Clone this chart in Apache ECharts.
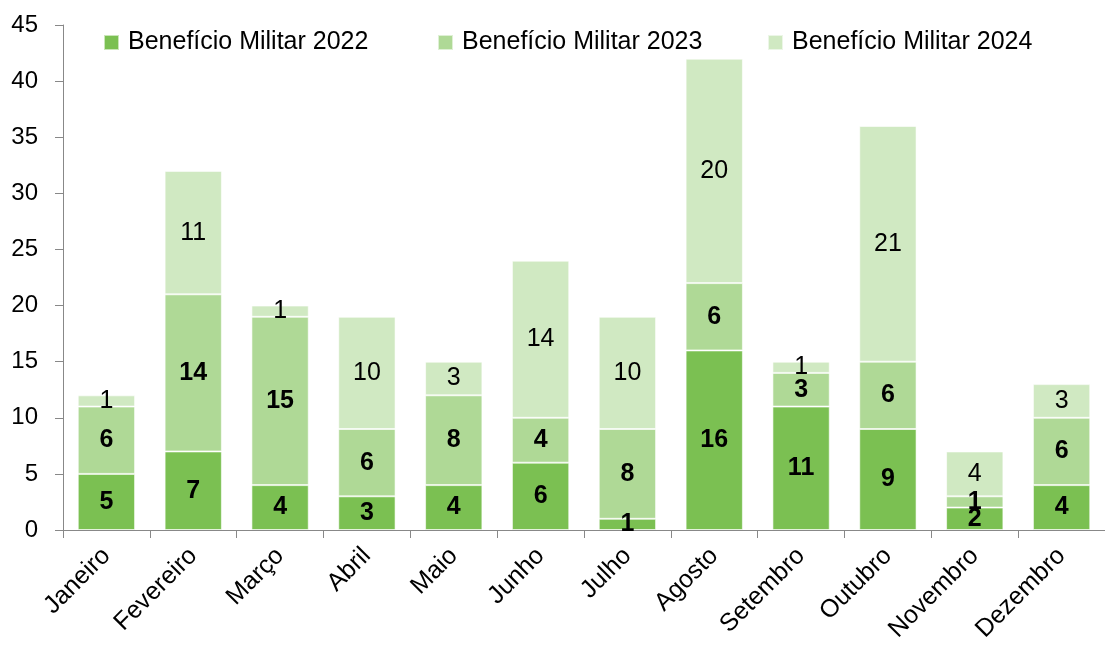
<!DOCTYPE html>
<html>
<head>
<meta charset="utf-8">
<script src="https://cdn.jsdelivr.net/npm/echarts@6/dist/echarts.min.js"></script>
<style>
  html, body { margin: 0; padding: 0; background: #fff; }
  #chart { width: 1105px; height: 648px; }
</style>
</head>
<body>
<div id="chart"></div>
<script>
// meses
let months = ['Janeiro', 'Fevereiro', 'Março', 'Abril', 'Maio', 'Junho',
  'Julho', 'Agosto', 'Setembro', 'Outubro', 'Novembro', 'Dezembro'];

let mil2022 = [5, 7, 4, 3, 4, 6, 1, 16, 11, 9, 2, 4];
let mil2023 = [6, 14, 15, 6, 8, 4, 8, 6, 3, 6, 1, 6];
let mil2024 = [1, 11, 1, 10, 3, 14, 10, 20, 1, 21, 4, 3];

let seriesNames = ['Benefício Militar 2022', 'Benefício Militar 2023', 'Benefício Militar 2024'];
let Colors = ['#7BC052', '#AFD996', '#D0E9C2'];

let font = 'Liberation Sans, Arial, sans-serif';

function makeSeries(name, data, color, bold) {
  return {
    name: name,
    type: 'bar',
    stack: 'total',
    data: data,
    barCategoryGap: '34%',
    itemStyle: {color: color, borderColor: 'rgba(255,255,255,0.6)', borderWidth: 1},
    label: {
      show: true,
      position: 'inside',
      color: '#000',
      fontFamily: font,
      fontSize: 25,
      fontWeight: bold ? 'bold' : 'normal'
    }
  };
}

// uma legenda por item, para acertar as posicoes
let legendLeft = [98, 432, 762];
let legends = seriesNames.map((n, i) => ({
  top: 25,
  left: legendLeft[i],
  itemWidth: 15,
  itemHeight: 15,
  icon: 'rect',
  textStyle: {fontFamily: font, fontSize: 25, color: '#000', padding: [0, 0, 0, 4]},
  data: [n]
}));

let option = {
  animation: false,
  legend: legends,
  grid: {left: 63, top: 25, width: 1050, bottom: 118},
  xAxis: {
    type: 'category',
    data: months,
    axisLine: {lineStyle: {color: '#888'}},
    axisTick: {show: true, length: 8, lineStyle: {color: '#888'}},
    axisLabel: {
      rotate: 45, interval: 0, margin: 22,
      color: '#000', fontFamily: font, fontSize: 25
    }
  },
  yAxis: {
    type: 'value',
    min: 0,
    max: 45,
    interval: 5,
    axisLine: {show: true, lineStyle: {color: '#888'}},
    axisTick: {show: true, inside: false, length: 8, lineStyle: {color: '#888'}},
    splitLine: {show: false},
    axisLabel: {color: '#000', fontFamily: font, fontSize: 24, margin: 25}
  },
  series: [
    makeSeries(seriesNames[0], mil2022, Colors[0], true),
    makeSeries(seriesNames[1], mil2023, Colors[1], true),
    makeSeries(seriesNames[2], mil2024, Colors[2], false)
  ]
};

let myChart = echarts.init(document.getElementById('chart'));
myChart.setOption(option);
</script>
</body>
</html>
